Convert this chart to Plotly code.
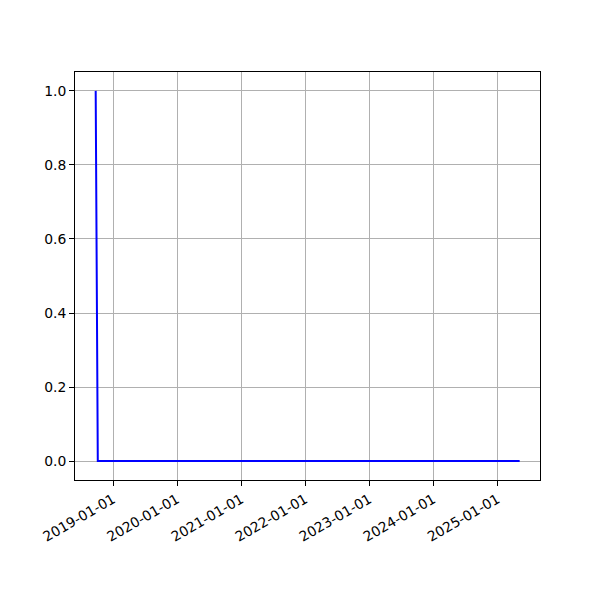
import plotly.graph_objects as go

dates = ["2018-09-24", "2018-10-06", "2025-05-08"]
values = [1.0, 0.0, 0.0]
x_tick_dates = ["2019-01-01", "2020-01-01", "2021-01-01", "2022-01-01",
                "2023-01-01", "2024-01-01", "2025-01-01"]
y_ticks = [0.0, 0.2, 0.4, 0.6, 0.8, 1.0]

fig = go.Figure()
fig.add_trace(go.Scatter(x=dates, y=values, mode="lines",
                         line=dict(color="blue", width=2), showlegend=False))

font = dict(family="DejaVu Sans", size=13.9, color="black")
fig.update_layout(
    width=600, height=600,
    margin=dict(l=67, r=68, t=64, b=128),
    paper_bgcolor="white", plot_bgcolor="white",
    font=font,
    xaxis=dict(
        type="date",
        automargin=False,
        range=["2018-05-29", "2025-09-01"],
        tickvals=x_tick_dates, ticktext=x_tick_dates,
        tickangle=-30,
        showgrid=True, gridcolor="#b0b0b0", gridwidth=1,
        showline=True, linecolor="black", linewidth=1, mirror=True,
        ticks="outside", ticklen=5, tickcolor="black", tickwidth=1,
        zeroline=False, tickfont=font,
    ),
    yaxis=dict(
        automargin=False,
        range=[-0.051, 1.051],
        tickvals=y_ticks, tickformat=".1f",
        showgrid=True, gridcolor="#b0b0b0", gridwidth=1,
        showline=True, linecolor="black", linewidth=1, mirror=True,
        ticks="outside", ticklen=5, tickcolor="black", tickwidth=1,
        zeroline=False, tickfont=font,
    ),
)

fig.write_html("out.html")
